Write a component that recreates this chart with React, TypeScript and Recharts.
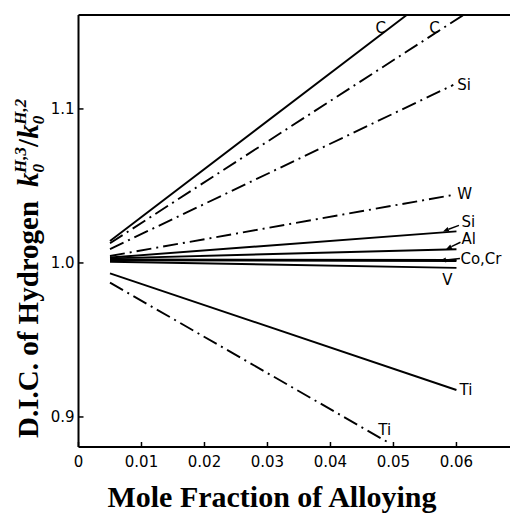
import { LineChart, Line, XAxis, YAxis, ReferenceLine } from 'recharts'

// axis ranges and ticks
const X_TICKS = [0, 0.01, 0.02, 0.03, 0.04, 0.05, 0.06]
const Y_TICKS = [0.9, 1.0, 1.1]
const X_MAX = 0.0685
const Y_MIN = 0.8805
const Y_MAX = 1.161

// curves (start at x = 0.005)
const C_SOLID = [{ x: 0.005, y: 1.0143 }, { x: 0.0521, y: 1.161 }]
const C_DASH = [{ x: 0.005, y: 1.0128 }, { x: 0.0611, y: 1.161 }]
const SI_DASH = [{ x: 0.005, y: 1.009 }, { x: 0.0595, y: 1.1156 }]
const W_DASH = [{ x: 0.005, y: 1.0045 }, { x: 0.0595, y: 1.0442 }]
const SI_SOLID = [{ x: 0.005, y: 1.0035 }, { x: 0.06, y: 1.0205 }]
const AL_SOLID = [{ x: 0.005, y: 1.003 }, { x: 0.06, y: 1.0089 }]
const CO_SOLID = [{ x: 0.005, y: 1.0022 }, { x: 0.06, y: 1.0019 }]
const CR_SOLID = [{ x: 0.005, y: 1.0018 }, { x: 0.06, y: 1.0013 }]
const V_SOLID = [{ x: 0.005, y: 1.0008 }, { x: 0.06, y: 0.9968 }]
const TI_SOLID = [{ x: 0.005, y: 0.9933 }, { x: 0.06, y: 0.9175 }]
const TI_DASH = [{ x: 0.005, y: 0.9872 }, { x: 0.0494, y: 0.8829 }]

const DASH_DOT = '15 5 2 5'
const INK = '#000'

type Series = {
  key: string
  data: { x: number; y: number }[]
  dash?: string
  label?: string
  dx?: number
  dy?: number
  anchor?: 'start' | 'middle' | 'end'
  arrow?: [number, number, number, number]
}

const SERIES: Series[] = [
  { key: 'c1', data: C_SOLID, label: 'C', dx: -26, dy: 13, anchor: 'middle' },
  { key: 'c2', data: C_DASH, dash: DASH_DOT, label: 'C', dx: -29, dy: 13, anchor: 'middle' },
  { key: 'si1', data: SI_DASH, dash: DASH_DOT, label: 'Si', dx: 4, dy: 0, anchor: 'start' },
  { key: 'w', data: W_DASH, dash: DASH_DOT, label: 'W', dx: 4, dy: -1, anchor: 'start' },
  { key: 'si2', data: SI_SOLID, label: 'Si', dx: 5, dy: -9, anchor: 'start', arrow: [2.5, -6, -13.5, 0] },
  { key: 'al', data: AL_SOLID, label: 'Al', dx: 5, dy: -10, anchor: 'start', arrow: [4, -7, -10.5, 0] },
  { key: 'co', data: CO_SOLID, label: 'Co,Cr', dx: 4, dy: -1, anchor: 'start', arrow: [3.5, -1.5, -16.5, 0.5] },
  { key: 'cr', data: CR_SOLID },
  { key: 'v', data: V_SOLID, label: 'V', dx: -9, dy: 12, anchor: 'middle' },
  { key: 'ti1', data: TI_SOLID, label: 'Ti', dx: 3, dy: 0, anchor: 'start' },
  { key: 'ti2', data: TI_DASH, dash: DASH_DOT, label: 'Ti', dx: -5, dy: -13, anchor: 'middle' },
]

const SANS = '"DejaVu Sans", sans-serif'
const SERIF = '"Liberation Serif", "Times New Roman", serif'

function endLabel(s: Series) {
  return (props: any) => {
    const { x, y, index } = props
    if (!s.label || index !== s.data.length - 1) return null
    let arrow = null
    if (s.arrow) {
      const [ax1, ay1, ax2, ay2] = s.arrow
      const x1 = x + ax1, y1 = y + ay1, x2 = x + ax2, y2 = y + ay2
      const len = Math.hypot(x2 - x1, y2 - y1)
      const ux = (x2 - x1) / len, uy = (y2 - y1) / len
      const hx = x2 - ux * 6, hy = y2 - uy * 6
      arrow = (
        <g>
          <line x1={x1} y1={y1} x2={hx} y2={hy} stroke={INK} strokeWidth={1.4} />
          <path
            d={`M${x2},${y2} L${hx - uy * 2.5},${hy + ux * 2.5} L${hx + uy * 2.5},${hy - ux * 2.5} Z`}
            fill={INK}
          />
        </g>
      )
    }
    return (
      <g key={`lbl-${s.key}`}>
        {arrow}
        <text
          x={x + (s.dx ?? 0)}
          y={y + (s.dy ?? 0)}
          textAnchor={s.anchor ?? 'start'}
          dominantBaseline="central"
          fontFamily={SANS}
          fontSize={15}
          fill={INK}
        >
          {s.label}
        </text>
      </g>
    )
  }
}

export default function App() {
  return (
    <div style={{ position: 'absolute', left: 0, top: 0, width: 510, height: 513, background: '#fff' }}>
      <LineChart width={510} height={513} margin={{ top: 15, right: 0, bottom: 0, left: 0 }}>
        <XAxis
          dataKey="x"
          type="number"
          domain={[0, X_MAX]}
          ticks={X_TICKS}
          allowDataOverflow
          height={66}
          tickFormatter={(v: number) => (v === 0 ? '0' : v.toFixed(2))}
          tickSize={-5}
          tickMargin={14}
          axisLine={{ stroke: INK, strokeWidth: 2 }}
          tickLine={{ stroke: INK, strokeWidth: 1.5 }}
          tick={{ fill: INK, fontFamily: SANS, fontSize: 15 }}
        />
        <YAxis
          type="number"
          domain={[Y_MIN, Y_MAX]}
          ticks={Y_TICKS}
          allowDataOverflow
          width={78.5}
          tickFormatter={(v: number) => v.toFixed(1)}
          tickSize={-5}
          tickMargin={9}
          axisLine={{ stroke: INK, strokeWidth: 2 }}
          tickLine={{ stroke: INK, strokeWidth: 1.5 }}
          tick={{ fill: INK, fontFamily: SANS, fontSize: 15 }}
        />
        <ReferenceLine y={Y_MAX} stroke={INK} strokeWidth={2} />
        {SERIES.map((s) => (
          <Line
            key={s.key}
            data={s.data}
            dataKey="y"
            stroke={INK}
            strokeWidth={1.9}
            strokeDasharray={s.dash}
            dot={false}
            activeDot={false}
            isAnimationActive={false}
            label={endLabel(s)}
          />
        ))}
      </LineChart>
      <svg width={510} height={513} style={{ position: 'absolute', left: 0, top: 0, pointerEvents: 'none' }}>
        <text x={272} y={507} textAnchor="middle" fontFamily={SERIF} fontWeight="bold" fontSize={30} fill={INK}>
          Mole Fraction of Alloying
        </text>
        <g transform="translate(38,438) rotate(-90)">
          <text x={0} y={0} fontFamily={SERIF} fontWeight="bold" fontSize={29} fill={INK}>
            D.I.C. of Hydrogen
            <tspan dx={14} fontStyle="italic">k</tspan>
            <tspan fontSize={17} fontStyle="italic" dy={6}>0</tspan>
            <tspan fontSize={17} fontStyle="italic" dx={-9} dy={-18}>H,3</tspan>
            <tspan dy={12}>/</tspan>
            <tspan fontStyle="italic">k</tspan>
            <tspan fontSize={17} fontStyle="italic" dy={6}>0</tspan>
            <tspan fontSize={17} fontStyle="italic" dx={-9} dy={-18}>H,2</tspan>
          </text>
        </g>
      </svg>
    </div>
  )
}
